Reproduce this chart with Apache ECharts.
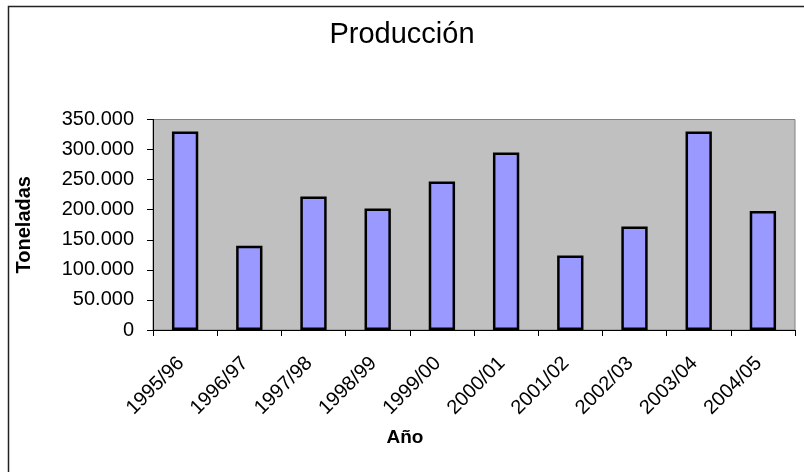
<!DOCTYPE html>
<html>
<head>
<meta charset="utf-8">
<style>
  html, body { margin: 0; padding: 0; background: #ffffff; }
  #chart { width: 804px; height: 472px; }
</style>
<script src="https://cdn.jsdelivr.net/npm/echarts@6/dist/echarts.min.js"></script>
</head>
<body>
<div id="chart"></div>
<script>
// Campaign years and production in tonnes
const campaigns = ['1995/96', '1996/97', '1997/98', '1998/99', '1999/00',
                   '2000/01', '2001/02', '2002/03', '2003/04', '2004/05'];
const tonnes = [330000, 140000, 222000, 202000, 247000,
                295000, 124000, 172000, 330000, 198000];
const yTicks = { min: 0, max: 350000, step: 50000 };

const FONT = 'Liberation Sans, Arial, sans-serif';

// thousands separated with a dot
function fmtThousands(v) {
  return String(v).replace(/\B(?=(\d{3})+(?!\d))/g, '.');
}

const chart = echarts.init(document.getElementById('chart'), null, { renderer: 'canvas' });

chart.setOption({
  backgroundColor: '#ffffff',
  animation: false,
  title: {
    text: 'Producción',
    left: 'center',
    top: 15,
    textStyle: { fontFamily: FONT, fontSize: 29, fontWeight: 'normal', color: '#000000' }
  },
  graphic: [
    {
      type: 'rect',
      shape: { x: 8.5, y: 6.5, width: 1000, height: 1000 },
      style: { fill: 'none', stroke: '#222222', lineWidth: 1.5 },
      z: 100
    },
    {
      type: 'text',
      x: 405, y: 438,
      style: {
        text: 'Año', fontFamily: FONT, fontSize: 19, fontWeight: 'bold',
        fill: '#000000', align: 'center', verticalAlign: 'middle'
      }
    }
  ],
  grid: {
    left: 153, right: 9, top: 119.5, bottom: 142,
    show: true,
    backgroundColor: '#c0c0c0',
    borderColor: '#808080',
    borderWidth: 1
  },
  xAxis: {
    type: 'category',
    data: campaigns,
    boundaryGap: true,
    axisLine: { show: true, lineStyle: { color: '#000000', width: 1 } },
    axisTick: { show: true, alignWithLabel: false, length: 6, lineStyle: { color: '#000000' } },
    axisLabel: {
      rotate: 45, interval: 0, margin: 26,
      padding: [0, 6, 0, 0],
      fontFamily: FONT, fontSize: 20, color: '#000000'
    },
    splitLine: { show: false }
  },
  yAxis: {
    type: 'value',
    min: yTicks.min, max: yTicks.max, interval: yTicks.step,
    name: 'Toneladas',
    nameLocation: 'middle',
    nameGap: 119,
    nameTextStyle: { fontFamily: FONT, fontSize: 20, fontWeight: 'bold', color: '#000000' },
    axisLine: { show: true, lineStyle: { color: '#000000', width: 1 } },
    axisTick: { show: true, inside: false, length: 6, lineStyle: { color: '#000000' } },
    axisLabel: {
      margin: 19, fontFamily: FONT, fontSize: 20, color: '#000000',
      formatter: fmtThousands
    },
    splitLine: { show: false }
  },
  series: [{
    type: 'bar',
    data: tonnes,
    barWidth: '41%',
    itemStyle: { color: '#9999ff', borderColor: '#000000', borderWidth: 2.5 }
  }]
});
</script>
</body>
</html>
